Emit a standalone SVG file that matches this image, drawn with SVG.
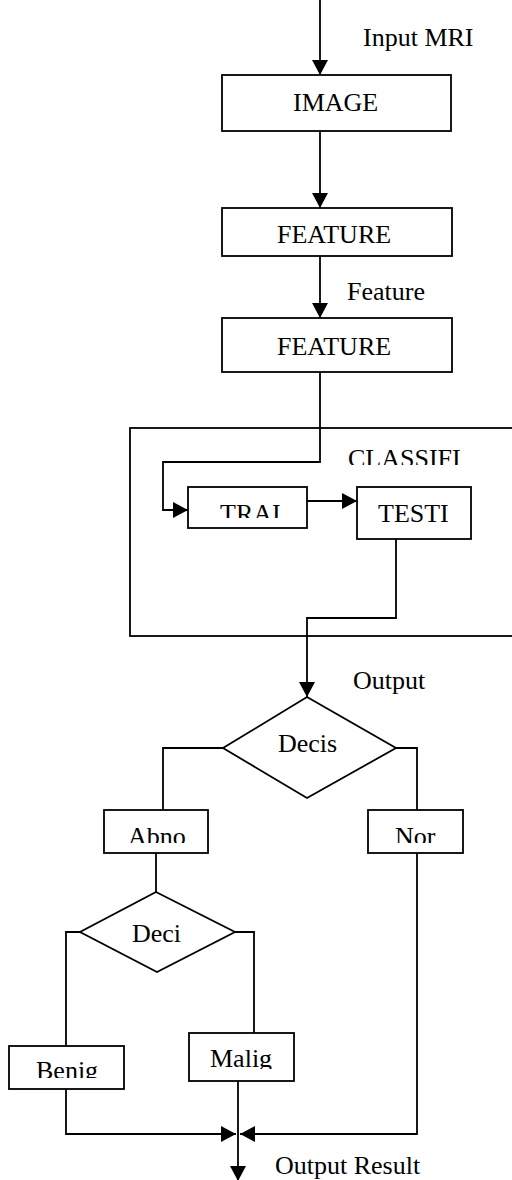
<svg xmlns="http://www.w3.org/2000/svg" width="512" height="1180" viewBox="0 0 512 1180">
<style>
.box{fill:#fff;stroke:#000;stroke-width:1.8}
.frame{fill:none;stroke:#000;stroke-width:1.8}
.c{fill:none;stroke:#000;stroke-width:1.8}
.t{font-family:"Liberation Serif","Times New Roman",serif;font-size:26px;fill:#000}
</style>
<defs>
<marker id="ah" markerUnits="userSpaceOnUse" markerWidth="16" markerHeight="16" viewBox="0 0 16 16" refX="15" refY="8" orient="auto">
<path d="M0,0 L15,8 L0,16 Z" fill="#000"/>
</marker>
<clipPath id="clipC"><rect x="300" y="430" width="212" height="35"/></clipPath>
<clipPath id="clipT"><rect x="190" y="490" width="115" height="28"/></clipPath>
<clipPath id="clipA"><rect x="106" y="812" width="100" height="31"/></clipPath>
<clipPath id="clipN"><rect x="370" y="812" width="91" height="31"/></clipPath>
<clipPath id="clipB"><rect x="11" y="1048" width="111" height="30"/></clipPath>
<clipPath id="clipM"><rect x="191" y="1035" width="101" height="34"/></clipPath>
</defs>
<rect x="130" y="428" width="400" height="208" class="frame"/>
<g id="connectors">
<path class="c" d="M320,0 V75" marker-end="url(#ah)"/>
<path class="c" d="M320,131 V208" marker-end="url(#ah)"/>
<path class="c" d="M320,256 V318" marker-end="url(#ah)"/>
<path class="c" d="M320,372 V462 H163 V510 H188" marker-end="url(#ah)"/>
<path class="c" d="M307,501 H357" marker-end="url(#ah)"/>
<path class="c" d="M396,539 V618 H307 V697" marker-end="url(#ah)"/>
<path class="c" d="M223,748 H163 V810"/>
<path class="c" d="M396,748 H417 V810"/>
<path class="c" d="M156,853 V892"/>
<path class="c" d="M80,932 H66 V1046"/>
<path class="c" d="M235,932 H254 V1033"/>
<path class="c" d="M66,1089 V1134 H236" marker-end="url(#ah)"/>
<path class="c" d="M417,853 V1134 H240" marker-end="url(#ah)"/>
<path class="c" d="M238,1081 V1181" marker-end="url(#ah)"/>
</g>
<g id="image"><rect x="222" y="75" width="229" height="56" class="box"/><text class="t" x="293" y="111">IMAGE</text></g>
<g id="feature1"><rect x="222" y="208" width="230" height="48" class="box"/><text class="t" x="277" y="243">FEATURE</text></g>
<g id="feature2"><rect x="222" y="318" width="230" height="54" class="box"/><text class="t" x="277" y="355">FEATURE</text></g>
<g id="classifier"><text class="t" x="348" y="467" clip-path="url(#clipC)">CLASSIFI</text></g>
<g id="train"><rect x="188" y="487" width="119" height="41" class="box"/><text class="t" x="220" y="522" clip-path="url(#clipT)">TRAI</text></g>
<g id="test"><rect x="357" y="487" width="114" height="52" class="box"/><text class="t" x="378" y="522">TESTI</text></g>
<g id="decision1"><polygon points="307,697 396,748 307,798 223,748" class="box"/><text class="t" x="278" y="752">Decis</text></g>
<g id="abnormal"><rect x="104" y="810" width="104" height="43" class="box"/><text class="t" x="128" y="845" clip-path="url(#clipA)">Abno</text></g>
<g id="normal"><rect x="368" y="810" width="95" height="43" class="box"/><text class="t" x="395" y="845" clip-path="url(#clipN)">Nor</text></g>
<g id="decision2"><polygon points="156,892 235,932 157,972 80,932" class="box"/><text class="t" x="132" y="942">Deci</text></g>
<g id="benign"><rect x="9" y="1046" width="115" height="43" class="box"/><text class="t" x="36" y="1079" clip-path="url(#clipB)">Benig</text></g>
<g id="malignant"><rect x="189" y="1033" width="105" height="48" class="box"/><text class="t" x="210" y="1067" clip-path="url(#clipM)">Malig</text></g>
<g id="labels">
<text class="t" x="363" y="46">Input MRI</text>
<text class="t" x="347" y="300">Feature</text>
<text class="t" x="353" y="689">Output</text>
<text class="t" x="275" y="1174">Output Result</text>
</g>
</svg>
